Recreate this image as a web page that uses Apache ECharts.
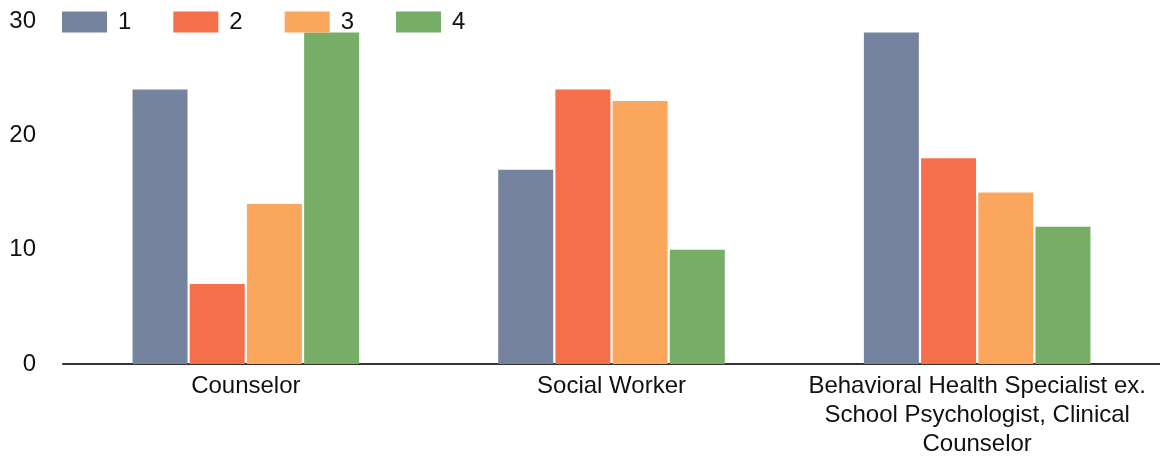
<!DOCTYPE html>
<html>
<head>
<meta charset="utf-8">
<script src="https://cdn.jsdelivr.net/npm/echarts@6/dist/echarts.min.js"></script>
<style>html,body{margin:0;padding:0;background:#fff;}#c{width:1160px;height:459px;}</style>
</head>
<body>
<div id="c"></div>
<script>
const categories = ['Counselor', 'Social Worker', 'Behavioral Health Specialist ex.\nSchool Psychologist, Clinical\nCounselor'];
const seriesNames = ['1', '2', '3', '4'];
const values1 = [24, 17, 29];
const values2 = [7, 24, 18];
const values3 = [14, 23, 15];
const values4 = [29, 10, 12];
const yTicks = [0, 10, 20, 30];
const colors = ['#76839f', '#f5704a', '#fba65d', '#78ad68'];

const allValues = [values1, values2, values3, values4];
const chart = echarts.init(document.getElementById('c'));
chart.setOption({
  animation: false,
  textStyle: { fontFamily: 'Liberation Sans, Arial, sans-serif' },
  legend: {
    left: 62, top: 10, padding: 0,
    itemWidth: 45, itemHeight: 21, itemGap: 42,
    icon: 'rect',
    textStyle: { fontSize: 24, color: '#111', padding: [0, 0, 0, 6], fontFamily: 'Liberation Sans, Arial, sans-serif' },
    data: seriesNames
  },
  grid: { left: 63, width: 1105, top: 21, bottom: 93 },
  xAxis: {
    type: 'category',
    data: categories,
    axisLine: { lineStyle: { color: '#333', width: 2 } },
    axisTick: { show: false },
    axisLabel: { fontSize: 24, color: '#111', lineHeight: 29, margin: 8, interval: 0, fontFamily: 'Liberation Sans, Arial, sans-serif' }
  },
  yAxis: {
    type: 'value',
    min: yTicks[0], max: yTicks[yTicks.length - 1], interval: 10,
    axisLine: { show: false },
    axisTick: { show: false },
    splitLine: { show: false },
    axisLabel: { fontSize: 24, color: '#111', margin: 27, fontFamily: 'Liberation Sans, Arial, sans-serif' }
  },
  series: seriesNames.map((n, i) => ({
    name: n,
    type: 'bar',
    data: allValues[i],
    barWidth: 55,
    barGap: '4%',
    itemStyle: { color: colors[i] }
  }))
});
</script>
</body>
</html>
